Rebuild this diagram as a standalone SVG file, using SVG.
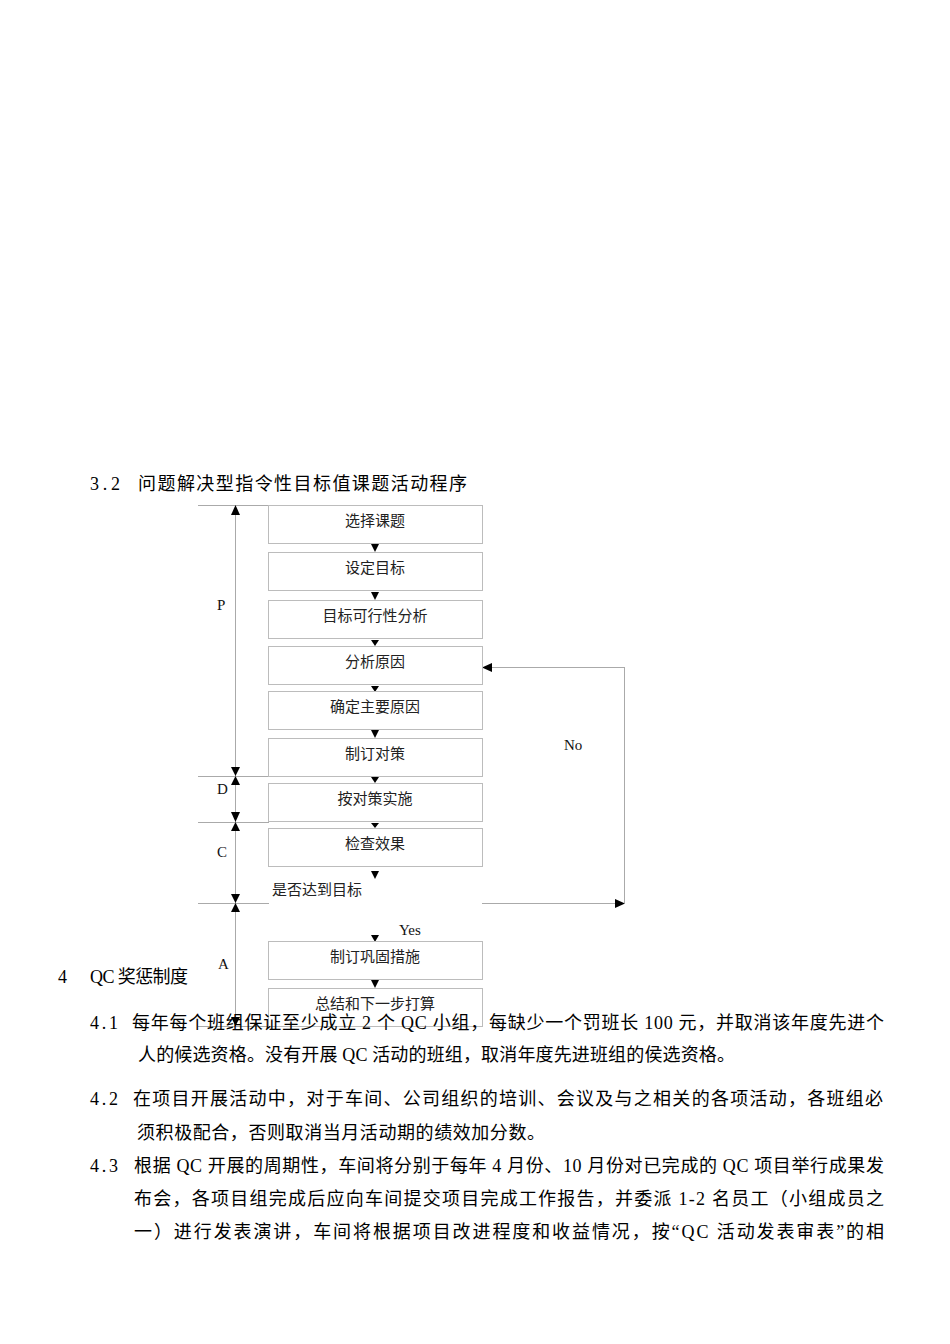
<svg xmlns="http://www.w3.org/2000/svg" width="950" height="1344" viewBox="0 0 950 1344">
<style>
.t{font-family:"Liberation Serif","Noto Sans CJK SC",serif;font-size:18px;fill:#000}
.bt{font-family:"Liberation Serif","Noto Sans CJK SC",serif;font-size:15px;fill:#222;text-anchor:middle}
.lb{font-family:"Liberation Serif","Noto Sans CJK SC",serif;font-size:15px;fill:#111}
.box{fill:#fff;stroke:#bcbcbc;stroke-width:1}
.ln{stroke:#aaa;stroke-width:1;fill:none}
.ah{fill:#000}
</style>
<rect width="950" height="1344" fill="#fff"/>
<text class="t" x="90" y="490" textLength="30" lengthAdjust="spacing">3.2</text>
<text class="t" x="138" y="490" textLength="329" lengthAdjust="spacing">问题解决型指令性目标值课题活动程序</text>

<g id="connectors">
  <line class="ln" x1="235.5" y1="506" x2="235.5" y2="1026"/>
  <line class="ln" x1="198" y1="505.5" x2="269" y2="505.5"/>
  <line class="ln" x1="198" y1="776.5" x2="269" y2="776.5"/>
  <line class="ln" x1="198" y1="822.5" x2="269" y2="822.5"/>
  <line class="ln" x1="198" y1="903.5" x2="269" y2="903.5"/>
  <line class="ln" x1="198" y1="1026.5" x2="269" y2="1026.5"/>
  <path class="ah" d="M235.5 505 L231 515 L240 515 Z"/>
  <path class="ah" d="M235.5 776 L231 767 L240 767 Z"/>
  <path class="ah" d="M235.5 776 L231 785 L240 785 Z"/>
  <path class="ah" d="M235.5 822 L231 812 L240 812 Z"/>
  <path class="ah" d="M235.5 822 L231 831 L240 831 Z"/>
  <path class="ah" d="M235.5 903 L231 894 L240 894 Z"/>
  <path class="ah" d="M235.5 903 L231 912 L240 912 Z"/>
  <path class="ah" d="M235.5 1026 L231 1017 L240 1017 Z"/>
  <line class="ln" x1="482" y1="903.5" x2="616" y2="903.5"/>
  <path class="ah" d="M625 903.5 L615 899 L615 908 Z"/>
  <line class="ln" x1="624.5" y1="667" x2="624.5" y2="903"/>
  <line class="ln" x1="491" y1="667.5" x2="624.5" y2="667.5"/>
  <path class="ah" d="M482 667.5 L492 663 L492 672 Z"/>
  <path class="ah" d="M375 552 L371 544 L379 544 Z"/>
  <path class="ah" d="M375 600 L371 592 L379 592 Z"/>
  <path class="ah" d="M375 646 L371 640 L379 640 Z"/>
  <path class="ah" d="M375 692 L371 686 L379 686 Z"/>
  <path class="ah" d="M375 738 L371 730 L379 730 Z"/>
  <path class="ah" d="M375 783 L371 777 L379 777 Z"/>
  <path class="ah" d="M375 828 L371 823 L379 823 Z"/>
  <path class="ah" d="M375 879 L371 871 L379 871 Z"/>
  <path class="ah" d="M375 942 L371 935 L379 935 Z"/>
  <path class="ah" d="M375 988 L371 980 L379 980 Z"/>
</g>

<g id="n1"><rect class="box" x="268.5" y="505.5" width="214" height="38"/><text class="bt" x="375" y="526">选择课题</text></g>
<g id="n2"><rect class="box" x="268.5" y="552.5" width="214" height="38"/><text class="bt" x="375" y="573">设定目标</text></g>
<g id="n3"><rect class="box" x="268.5" y="600.5" width="214" height="38"/><text class="bt" x="375" y="621">目标可行性分析</text></g>
<g id="n4"><rect class="box" x="268.5" y="646.5" width="214" height="38"/><text class="bt" x="375" y="667">分析原因</text></g>
<g id="n5"><rect class="box" x="268.5" y="691.5" width="214" height="38"/><text class="bt" x="375" y="712">确定主要原因</text></g>
<g id="n6"><rect class="box" x="268.5" y="738.5" width="214" height="38"/><text class="bt" x="375" y="759">制订对策</text></g>
<g id="n7"><rect class="box" x="268.5" y="783.5" width="214" height="38"/><text class="bt" x="375" y="804">按对策实施</text></g>
<g id="n8"><rect class="box" x="268.5" y="828.5" width="214" height="38"/><text class="bt" x="375" y="849">检查效果</text></g>
<g id="n9"><text class="bt" x="272" y="895" style="text-anchor:start">是否达到目标</text></g>
<g id="n10"><rect class="box" x="268.5" y="941.5" width="214" height="38"/><text class="bt" x="375" y="962">制订巩固措施</text></g>
<g id="n11"><rect class="box" x="268.5" y="988.5" width="214" height="38"/><text class="bt" x="375" y="1009">总结和下一步打算</text></g>

<g id="labels">
  <text class="lb" x="217" y="610">P</text>
  <text class="lb" x="217" y="794">D</text>
  <text class="lb" x="217" y="857">C</text>
  <text class="lb" x="218" y="969">A</text>
  <text class="lb" x="564" y="750">No</text>
  <text class="lb" x="399" y="935">Yes</text>
</g>

<g id="body">
  <text class="t" x="58" y="983">4</text>
  <text class="t" x="90" y="983" textLength="98" lengthAdjust="spacing">QC 奖惩制度</text>
  <text class="t" x="90" y="1029" textLength="28" lengthAdjust="spacing">4.1</text>
  <text class="t" x="132" y="1029" textLength="752" lengthAdjust="spacing">每年每个班组保证至少成立 2 个 QC 小组，每缺少一个罚班长 100 元，并取消该年度先进个</text>
  <text class="t" x="138" y="1061" textLength="597" lengthAdjust="spacing">人的候选资格。没有开展 QC 活动的班组，取消年度先进班组的侯选资格。</text>
  <text class="t" x="90" y="1105" textLength="28" lengthAdjust="spacing">4.2</text>
  <text class="t" x="133" y="1105" textLength="750" lengthAdjust="spacing">在项目开展活动中，对于车间、公司组织的培训、会议及与之相关的各项活动，各班组必</text>
  <text class="t" x="137" y="1139" textLength="408" lengthAdjust="spacing">须积极配合，否则取消当月活动期的绩效加分数。</text>
  <text class="t" x="90" y="1172" textLength="28" lengthAdjust="spacing">4.3</text>
  <text class="t" x="134" y="1172" textLength="750" lengthAdjust="spacing">根据 QC 开展的周期性，车间将分别于每年 4 月份、10 月份对已完成的 QC 项目举行成果发</text>
  <text class="t" x="134" y="1205" textLength="750" lengthAdjust="spacing">布会，各项目组完成后应向车间提交项目完成工作报告，并委派 1-2 名员工（小组成员之</text>
  <text class="t" x="134" y="1238" textLength="750" lengthAdjust="spacing">一）进行发表演讲，车间将根据项目改进程度和收益情况，按“QC 活动发表审表”的相</text>
</g>
</svg>
